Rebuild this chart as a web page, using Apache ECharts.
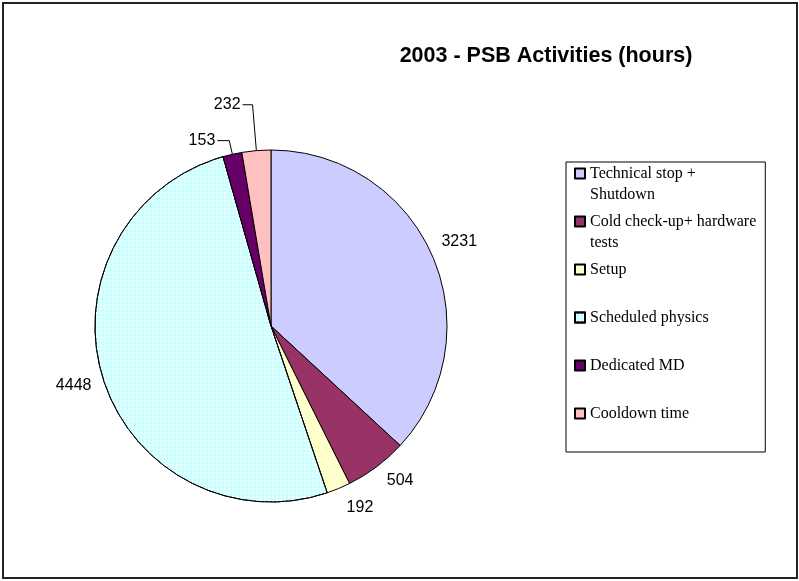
<!DOCTYPE html>
<html>
<head>
<meta charset="utf-8">
<script src="https://cdn.jsdelivr.net/npm/echarts@6/dist/echarts.min.js"></script>
<style>
  html, body { margin: 0; padding: 0; background: #fff; }
  #chart { width: 799px; height: 581px; }
</style>
</head>
<body>
<div id="chart"></div>
<script>
// data
const categories = [
  "Technical stop + Shutdown",
  "Cold check-up+ hardware tests",
  "Setup",
  "Scheduled physics",
  "Dedicated MD",
  "Cooldown time",
];
// legend text as wrapped in the original (every entry takes two lines)
const legendText = [
  "Technical stop +\nShutdown",
  "Cold check-up+ hardware\ntests",
  "Setup\n ",
  "Scheduled physics\n ",
  "Dedicated MD\n ",
  "Cooldown time\n ",
];
const hours = [3231, 504, 192, 4448, 153, 232];
const sliceColors = ["#CCCCFF", "#993366", "#FFFFCC", "#CCFFFF", "#660066", "#FFC0C0"];

// label line tweaks per slice
const labelTweaks = [
  { length: 10, length2: 0, show: false },
  { length: 17, length2: 0, show: false },
  { length: 21, length2: 0, show: false },
  { length: 12, length2: 0, show: false },
  { length: 14, length2: 12, show: true },
  { length: 46, length2: 10, show: true },
];

// square sitting on the first text line: extra moveTo stretches the box down
const legendIcon = "path://M0,0L10,0L10,10L0,10Z M0,31";

const chartDom = echarts.init(document.getElementById("chart"));

const seriesData = categories.map((name, i) => {
  const t = labelTweaks[i];
  const item = {
    name: name,
    value: hours[i],
    itemStyle: { color: sliceColors[i] },
    labelLine: { show: t.show, length: t.length, length2: t.length2 },
    label: { distanceToLabelLine: t.show ? 2 : 0 },
  };
  if (i === 3) {
    item.itemStyle.decal = {
      symbol: "rect",
      symbolSize: 1,
      dashArrayX: [2, 2],
      dashArrayY: [2, 2],
      color: "rgba(255,255,255,0.75)",
    };
  }
  return item;
});

chartDom.setOption({
  animation: false,
  backgroundColor: "#fff",
  title: {
    text: "2003 - PSB Activities (hours)",
    left: 541,
    top: 40,
    textAlign: "center",
    textStyle: {
      fontFamily: "Liberation Sans, Arial, sans-serif",
      fontSize: 21.5,
      fontWeight: "bold",
      color: "#000",
    },
  },
  legend: {
    orient: "vertical",
    left: 566,
    top: 162,
    padding: [1, 9, 7, 8],
    itemGap: 6,
    itemWidth: 10,
    itemHeight: 31,
    icon: legendIcon,
    borderColor: "#000",
    borderWidth: 1,
    backgroundColor: "#fff",
    selectedMode: false,
    formatter: (name) => legendText[categories.indexOf(name)],
    textStyle: {
      fontFamily: "Liberation Serif, Times New Roman, serif",
      fontSize: 16,
      lineHeight: 21,
      color: "#000",
    },
  },
  graphic: [
    {
      type: "rect",
      shape: { x: 3, y: 3, width: 794, height: 575 },
      style: { fill: null, stroke: "#222", lineWidth: 2 },
      silent: true,
      z: 100,
    },
  ],
  series: [
    {
      type: "pie",
      center: [271, 326],
      radius: 176,
      startAngle: 90,
      clockwise: true,
      avoidLabelOverlap: false,
      data: seriesData,
      itemStyle: {
        borderColor: "#000",
        borderWidth: 1,
      },
      label: {
        show: true,
        position: "outside",
        formatter: "{c}",
        color: "#000",
        fontFamily: "Liberation Sans, Arial, sans-serif",
        fontSize: 16,
      },
      labelLine: {
        lineStyle: { color: "#000", width: 1 },
        smooth: false,
      },
      labelLayout: function (params) {
        // the 3231 label sits a little higher in the original, 4448 a bit lower
        if (params.dataIndex === 0) {
          return { dy: -10 };
        }
        if (params.dataIndex === 3) {
          return { dy: 4 };
        }
        return {};
      },
      emphasis: { disabled: true },
    },
  ],
});

window.addEventListener("resize", () => {
  chartDom.resize();
});
</script>
</body>
</html>
